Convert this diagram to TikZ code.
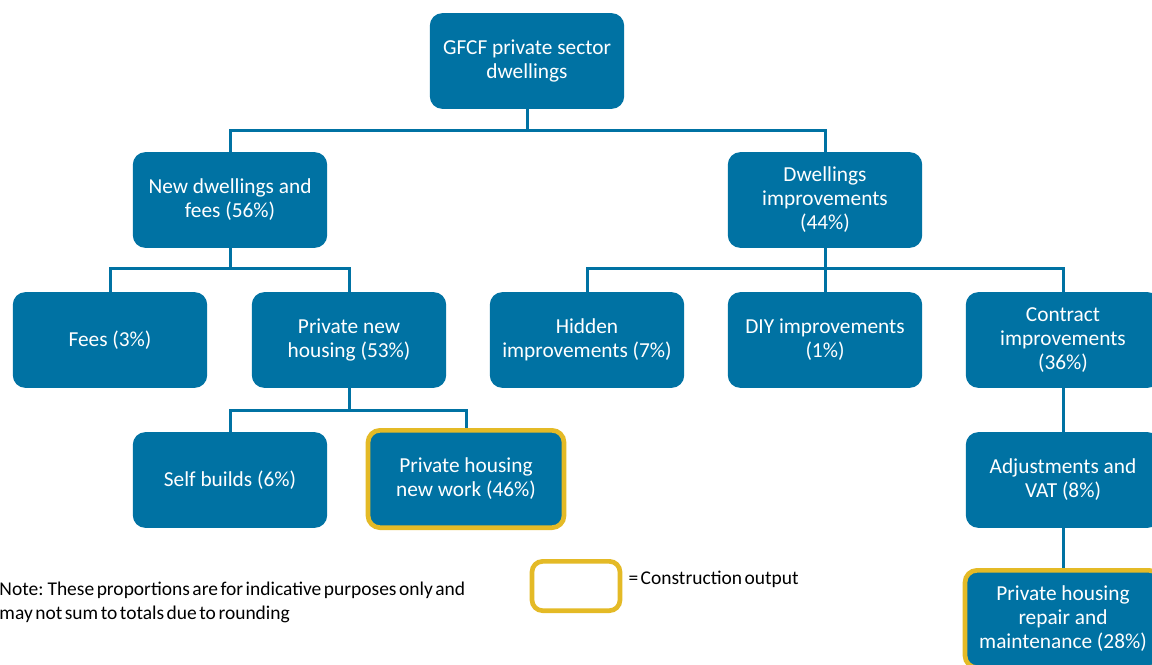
\documentclass[tikz,border=0pt]{standalone}
\usepackage{fontspec}
\setmainfont{Carlito}
\definecolor{boxblue}{RGB}{0,114,163}
\definecolor{outyellow}{RGB}{228,186,38}
\newcommand\notefont{\fontsize{14.6}{18}\selectfont\spaceskip=1.9pt plus 0.5pt\relax}
\tikzset{every picture/.style={line width=0.75pt}}
\tikzset{
  catbox/.style={rectangle, rounded corners=9pt, fill=boxblue, draw=boxblue,
    minimum width=145pt, minimum height=71pt, text=white, align=center,
    inner sep=2pt, font=\fontsize{16}{18}\selectfont},
  outbox/.style={catbox, draw=outyellow, line width=3.5pt, minimum width=147pt, minimum height=73pt},
  link/.style={draw=boxblue, line width=2.25pt},
  notetext/.style={anchor=west, inner sep=0pt, align=left, font=\notefont}
}

\begin{document}
\begin{tikzpicture}[x=0.75pt,y=0.75pt,yscale=-1,xscale=1]
\useasboundingbox (0,0) rectangle (1152,664);

%Rounded Rect: top level
\node [catbox] (gfcf) at (527,61) {GFCF private sector\\dwellings};
%Rounded Rect: second level
\node [catbox] (newdw) at (230,200) {New dwellings and\\fees (56\%)};
\node [catbox] (improv) at (825,200) {Dwellings\\improvements\\(44\%)};
%Rounded Rect: third level
\node [catbox] (fees) at (110,340) {Fees (3\%)};
\node [catbox] (pnh) at (349,340) {Private new\\housing (53\%)};
\node [catbox] (hidden) at (587,340) {Hidden\\improvements (7\%)};
\node [catbox] (diy) at (825,340) {DIY improvements\\(1\%)};
\node [catbox] (contract) at (1063,340) {Contract\\improvements\\(36\%)};
%Rounded Rect: fourth level
\node [catbox] (self) at (230,480) {Self builds (6\%)};
\node [outbox] (phnw) at (466,479) {Private housing\\new work (46\%)};
\node [catbox] (adjust) at (1063,480) {Adjustments and\\VAT (8\%)};
%Rounded Rect: fifth level
\node [outbox] (repair) at (1063,619) {Private housing\\repair and\\maintenance (28\%)};

%Straight Lines: bus levels
\coordinate (busa) at (527,130);
\coordinate (busb) at (230,268);
\coordinate (busc) at (825,268);
\coordinate (busd) at (349,410);

\draw [link] (gfcf.south) -- (busa);
\draw [link] (newdw.north) |- (busa) -| (improv.north);
\draw [link] (newdw.south) -- (busb);
\draw [link] (fees.north) |- (busb) -| (pnh.north);
\draw [link] (improv.south) -- (busc);
\draw [link] (hidden.north) |- (busc) -| (contract.north);
\draw [link] (busc) -- (diy.north);
\draw [link] (pnh.south) -- (busd);
\draw [link] (self.north) |- (busd) -| (phnw.north);
\draw [link] (contract.south) -- (adjust.north);
\draw [link] (adjust.south) -- (repair.north);

%Rounded Rect: legend
\node [rectangle, rounded corners=8pt, draw=outyellow, line width=3.5pt, fill=white,
  minimum width=66pt, minimum height=37pt] (legend) at (576,586) {};

% Text Node
\node [notetext] (legtext) at (628,579) {= Construction output};
% Text Node
\node [notetext] (note) at (-1,602) {Note: These proportions are for indicative purposes only and\\may not sum to totals due to rounding};

\end{tikzpicture}
\end{document}
